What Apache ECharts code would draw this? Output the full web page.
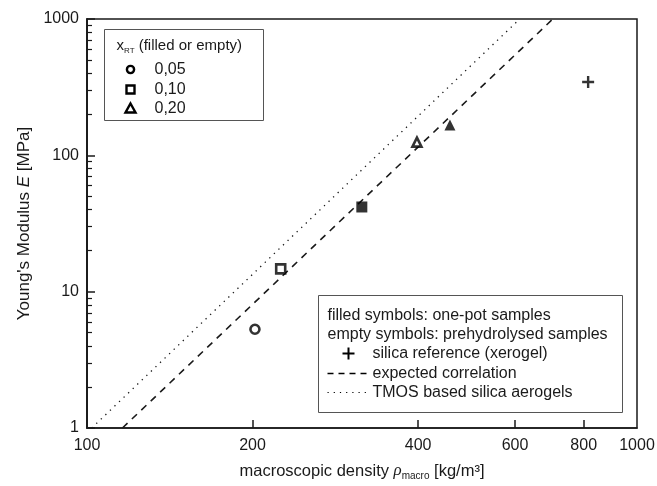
<!DOCTYPE html>
<html>
<head>
<meta charset="utf-8">
<script src="https://cdn.jsdelivr.net/npm/echarts@6/dist/echarts.min.js"></script>
<style>
  html, body { margin: 0; padding: 0; background: #fff; }
  #chart { width: 657px; height: 486px; }
</style>
</head>
<body>
<div id="chart"></div>
<script>
// x_RT of each sample, density [kg/m3] and Young's modulus [MPa]
const emptyXrt = ['0,05', '0,10', '0,20'];
const emptyRho = [202, 225, 398];
const emptyE = [5.3, 14.7, 125];

const filledXrt = ['0,10', '0,20'];
const filledRho = [316, 457];
const filledE = [41.8, 167];

const xerogelRho = [815];
const xerogelE = [345];

// correlation lines (end points)
const expectedRho = [116, 703];
const expectedE = [1, 1000];
const tmosRho = [102, 612];
const tmosE = [1, 1000];

const xLabels = [100, 200, 400, 600, 800, 1000];
const xTicks = [200, 400, 600, 800];
const yMajor = [1, 10, 100, 1000];
const yMinor = [2, 3, 4, 5, 6, 7, 8, 9, 20, 30, 40, 50, 60, 70, 80, 90, 200, 300, 400, 500, 600, 700, 800, 900];

const symbolOf = { '0,05': 'circle', '0,10': 'rect', '0,20': 'triangle' };
const plusPath = 'path://M4,0H6V4H10V6H6V10H4V6H0V4H4Z';

const font = 'Arial, "Liberation Sans", sans-serif';
const ink = '#1a1a1a';

const zip = (xs, ys) => xs.map((x, i) => [x, ys[i]]);

const chart = echarts.init(document.getElementById('chart'));

// grid.show together with axisTick.customValues on x hides the y ticks,
// so the frame is drawn as a graphic rect instead
const option = {
  backgroundColor: '#fff',
  animation: false,
  textStyle: { fontFamily: font },
  grid: {
    left: 87, right: 20, top: 19, bottom: 58,
    outerBoundsMode: 'none', containLabel: false
  },
  xAxis: {
    type: 'log',
    logBase: 10,
    min: 100,
    max: 1000,
    name: '{n|macroscopic density }{i|ρ}{s|macro}{n| [kg/m³]}',
    nameLocation: 'middle',
    nameGap: 33,
    nameTextStyle: {
      rich: {
        n: { fontSize: 16.5, color: ink, fontFamily: font },
        i: { fontSize: 17, color: ink, fontStyle: 'italic', fontFamily: 'serif' },
        s: { fontSize: 10, color: ink, fontFamily: font, padding: [10, 0, 0, 0] }
      }
    },
    axisLine: { lineStyle: { color: ink, width: 1.5 } },
    axisTick: { inside: true, length: 8, customValues: xTicks, lineStyle: { color: ink, width: 1.5 } },
    axisLabel: { customValues: xLabels, fontSize: 16, color: ink, margin: 10, formatter: v => String(Math.round(v)) },
    splitLine: { show: false }
  },
  yAxis: [
    {
      type: 'log',
      logBase: 10,
      min: 1,
      max: 1000,
      name: "{n|Young's Modulus }{i|E}{n| [MPa]}",
      nameLocation: 'middle',
      nameGap: 42,
      nameTextStyle: {
        rich: {
          n: { fontSize: 17, color: ink, fontFamily: font },
          i: { fontSize: 17, color: ink, fontStyle: 'italic', fontFamily: font }
        }
      },
      axisLine: { show: true, lineStyle: { color: ink, width: 1.5 } },
      axisTick: { show: true, inside: true, length: 8, customValues: yMajor, lineStyle: { color: ink, width: 1.5 } },
      axisLabel: { customValues: yMajor, fontSize: 16, color: ink, margin: 8, formatter: v => String(Math.round(v)) },
      splitLine: { show: false }
    },
    {
      type: 'log',
      logBase: 10,
      min: 1,
      max: 1000,
      position: 'left',
      axisLine: { show: true, lineStyle: { color: ink, width: 1.5 } },
      axisTick: { show: true, inside: true, length: 5, customValues: yMinor, lineStyle: { color: ink, width: 1.2 } },
      axisLabel: { show: false, customValues: yMinor },
      splitLine: { show: false }
    }
  ],
  series: [
    {
      name: 'TMOS based silica aerogels',
      type: 'line',
      yAxisIndex: 1,
      data: zip(tmosRho, tmosE),
      symbol: 'none',
      clip: true,
      lineStyle: { color: ink, width: 1.3, type: [1.3, 5] }
    },
    {
      name: 'expected correlation',
      type: 'line',
      data: zip(expectedRho, expectedE),
      symbol: 'none',
      clip: true,
      lineStyle: { color: ink, width: 1.6, type: [7, 6] }
    },
    {
      name: 'empty symbols',
      type: 'scatter',
      data: emptyRho.map((x, i) => ({ value: [x, emptyE[i]], symbol: symbolOf[emptyXrt[i]] })),
      symbolSize: 9,
      itemStyle: { color: '#fff', borderColor: '#000', borderWidth: 2.6 },
      z: 5
    },
    {
      name: 'filled symbols',
      type: 'scatter',
      data: filledRho.map((x, i) => ({ value: [x, filledE[i]], symbol: symbolOf[filledXrt[i]] })),
      symbolSize: 11,
      itemStyle: { color: '#000' },
      z: 5
    },
    {
      name: 'silica reference (xerogel)',
      type: 'scatter',
      data: zip(xerogelRho, xerogelE),
      symbol: plusPath,
      symbolSize: 12,
      itemStyle: { color: '#000' },
      z: 5
    }
  ],
  graphic: [
    // plot frame, placed by its own shape so the stroke sits on the axes
    {
      type: 'rect',
      shape: { x: 87, y: 19, width: 550, height: 409 },
      style: { fill: 'none', stroke: ink, lineWidth: 1.5 },
      silent: true,
      z: 0
    },
    // legend 1: x_RT
    {
      type: 'group',
      left: 104,
      top: 29,
      children: [
        { type: 'rect', shape: { x: 0, y: 0, width: 159, height: 91 }, style: { fill: '#fff', stroke: '#555', lineWidth: 1 } },
        {
          type: 'text', x: 12, y: 8,
          style: {
            text: '{n|x}{s|RT}{n| (filled or empty)}',
            rich: {
              n: { fontSize: 15, fill: ink, fontFamily: font },
              s: { fontSize: 8, fill: ink, fontFamily: font, padding: [9, 0, 0, 0] }
            }
          }
        },
        { type: 'circle', shape: { cx: 26, cy: 40, r: 3.6 }, style: { fill: '#fff', stroke: '#000', lineWidth: 2.4 } },
        { type: 'text', x: 50, y: 40, style: { text: '0,05', fontSize: 16, fill: ink, fontFamily: font, verticalAlign: 'middle' } },
        { type: 'rect', shape: { x: 22, y: 56, width: 8, height: 8 }, style: { fill: '#fff', stroke: '#000', lineWidth: 2.4 } },
        { type: 'text', x: 50, y: 60, style: { text: '0,10', fontSize: 16, fill: ink, fontFamily: font, verticalAlign: 'middle' } },
        { type: 'polygon', shape: { points: [[26, 74], [31, 83], [21, 83]] }, style: { fill: '#fff', stroke: '#000', lineWidth: 2.4 } },
        { type: 'text', x: 50, y: 79, style: { text: '0,20', fontSize: 16, fill: ink, fontFamily: font, verticalAlign: 'middle' } }
      ]
    },
    // legend 2: sample types and lines
    {
      type: 'group',
      left: 318,
      top: 295,
      children: [
        { type: 'rect', shape: { x: 0, y: 0, width: 304, height: 117 }, style: { fill: '#fff', stroke: '#555', lineWidth: 1 } },
        { type: 'text', x: 9, y: 20, style: { text: 'filled symbols: one-pot samples', fontSize: 16, fill: ink, fontFamily: font, verticalAlign: 'middle' } },
        { type: 'text', x: 9, y: 39, style: { text: 'empty symbols: prehydrolysed samples', fontSize: 16, fill: ink, fontFamily: font, verticalAlign: 'middle' } },
        { type: 'line', shape: { x1: 24, y1: 58, x2: 36, y2: 58 }, style: { stroke: '#000', lineWidth: 2 } },
        { type: 'line', shape: { x1: 30, y1: 52, x2: 30, y2: 64 }, style: { stroke: '#000', lineWidth: 2 } },
        { type: 'text', x: 54, y: 58, style: { text: 'silica reference (xerogel)', fontSize: 16, fill: ink, fontFamily: font, verticalAlign: 'middle' } },
        { type: 'line', shape: { x1: 9, y1: 78, x2: 52, y2: 78 }, style: { stroke: '#000', lineWidth: 1.5, lineDash: [6, 5] } },
        { type: 'text', x: 54, y: 78, style: { text: 'expected correlation', fontSize: 16, fill: ink, fontFamily: font, verticalAlign: 'middle' } },
        { type: 'line', shape: { x1: 9, y1: 97, x2: 52, y2: 97 }, style: { stroke: '#000', lineWidth: 1.2, lineDash: [1.2, 5] } },
        { type: 'text', x: 54, y: 97, style: { text: 'TMOS based silica aerogels', fontSize: 16, fill: ink, fontFamily: font, verticalAlign: 'middle' } }
      ]
    }
  ]
};

chart.setOption(option);

window.addEventListener('resize', () => chart.resize());
</script>
</body>
</html>
